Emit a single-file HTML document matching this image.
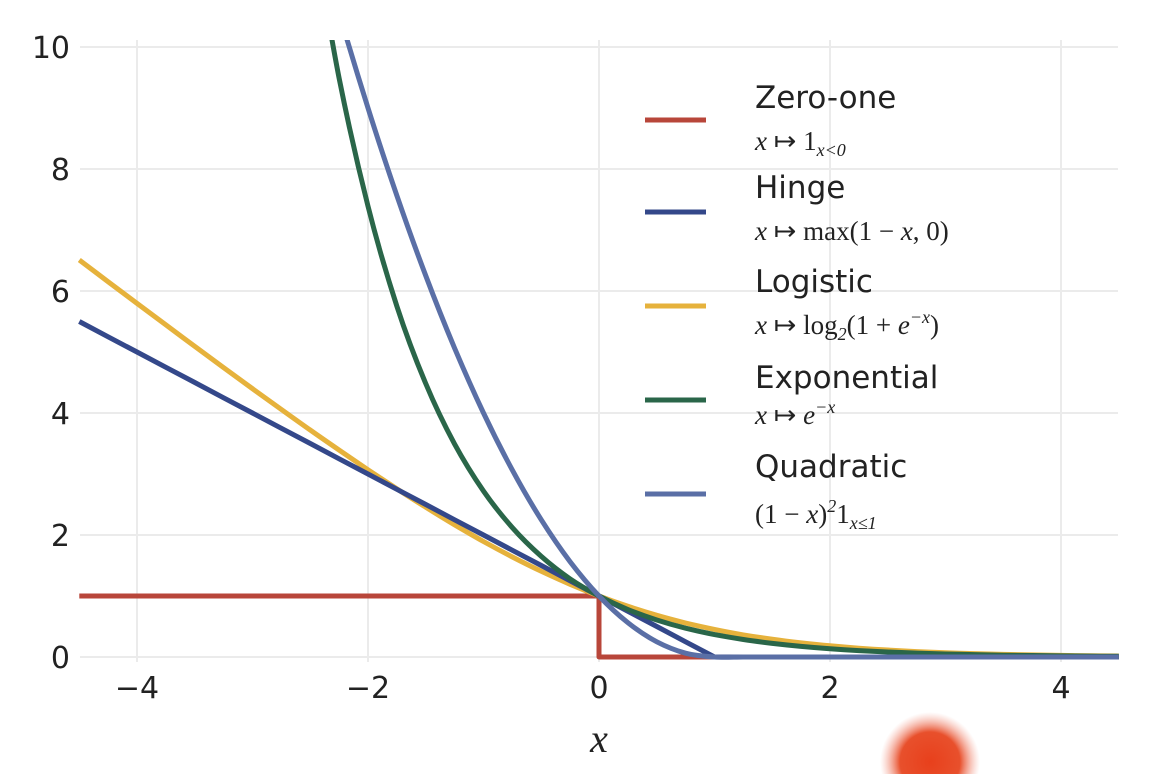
<!DOCTYPE html>
<html><head><meta charset="utf-8">
<style>
html,body{margin:0;padding:0;background:#fff;}
svg{display:block;}
.tick{font-family:"DejaVu Sans","Liberation Sans",sans-serif;font-size:30px;fill:#222;}
.lt{font-family:"DejaVu Sans","Liberation Sans",sans-serif;font-size:31px;fill:#222;}
.lf{font-family:"Liberation Serif",serif;font-size:27px;fill:#222;}
</style></head>
<body>
<svg id="chart" width="1176" height="774" viewBox="0 0 1176 774" xmlns="http://www.w3.org/2000/svg">
<defs>
<clipPath id="plotclip"><rect x="78" y="40" width="1042" height="625"/></clipPath>
<radialGradient id="dotg"><stop offset="0" stop-color="#e8401c"/><stop offset="0.6" stop-color="#e8502c"/><stop offset="1" stop-color="#f4a090" stop-opacity="0"/></radialGradient>
</defs>
<g id="grid"></g>
<g id="ticks"></g>
<g id="series" clip-path="url(#plotclip)"></g>
<text x="599" y="752" text-anchor="middle" style="font-family:'Liberation Serif',serif;font-style:italic;font-size:40px;fill:#222">x</text>
<g id="legend"></g>
<circle cx="930" cy="762" r="50" fill="url(#dotg)"/>
</svg>
<script>
const xs = [-4.5,-4.25,-4,-3.75,-3.5,-3.25,-3,-2.75,-2.5,-2.25,-2,-1.75,-1.5,-1.25,-1,-0.75,-0.5,-0.25,0,0.25,0.5,0.75,1,1.25,1.5,1.75,2,2.25,2.5,2.75,3,3.25,3.5,3.75,4,4.25,4.5];
const hinge = [5.5,5.25,5,4.75,4.5,4.25,4,3.75,3.5,3.25,3,2.75,2.5,2.25,2,1.75,1.5,1.25,1,0.75,0.5,0.25,0,0,0,0,0,0,0,0,0,0,0,0,0,0,0];
const logistic = [6.508,6.152,5.797,5.444,5.092,4.744,4.398,4.057,3.720,3.391,3.069,2.756,2.455,2.167,1.894,1.640,1.405,1.192,1,0.831,0.684,0.558,0.452,0.363,0.291,0.231,0.183,0.145,0.114,0.089,0.070,0.055,0.043,0.034,0.026,0.020,0.016];
const exponential = [null,null,null,null,null,null,null,null,12.18,9.49,7.39,5.75,4.48,3.49,2.72,2.12,1.65,1.28,1,0.779,0.607,0.472,0.368,0.287,0.223,0.174,0.135,0.105,0.082,0.064,0.050,0.039,0.030,0.024,0.018,0.014,0.011];
const quadratic = [null,null,null,null,null,null,null,null,12.25,10.56,9,7.5625,6.25,5.0625,4,3.0625,2.25,1.5625,1,0.5625,0.25,0.0625,0,0,0,0,0,0,0,0,0,0,0,0,0,0,0];
const zeroOneX = [-4.5,0,0,4.5];
const zeroOneY = [1,1,0,0];
const xTicks = [-4,-2,0,2,4];
const xTickLabels = ["−4","−2","0","2","4"];
const yTicks = [0,2,4,6,8,10];
const yTickLabels = ["0","2","4","6","8","10"];

const NS="http://www.w3.org/2000/svg";
const sx = v => 599 + v*115.5;
const sy = v => 657 - v*61;
function mk(tag, attrs, parent){const e=document.createElementNS(NS,tag);for(const k in attrs)e.setAttribute(k,attrs[k]);parent.appendChild(e);return e;}
const grid=document.getElementById('grid'), ticks=document.getElementById('ticks'), series=document.getElementById('series'), legend=document.getElementById('legend');
xTicks.forEach((t,i)=>{
  const l=mk('line',{x1:sx(t),x2:sx(t),y1:40,y2:662,stroke:'#ebebeb','stroke-width':2},grid);
  
  
  const tx=mk('text',{x:sx(t),y:698,'text-anchor':'middle',class:'tick'},ticks);
  tx.textContent=xTickLabels[i];
  
  
});
yTicks.forEach((t,i)=>{
  const l=mk('line',{x1:80,x2:1118,y1:sy(t),y2:sy(t),stroke:'#ebebeb','stroke-width':2},grid);
  
  
  const tx=mk('text',{x:70,y:sy(t)+11,'text-anchor':'end',class:'tick'},ticks);
  tx.textContent=yTickLabels[i];
  
  
});
function pathFrom(xa,ya,smooth){
  const segs=[];let cur=[];
  for(let i=0;i<xa.length;i++){if(ya[i]===null){if(cur.length)segs.push(cur);cur=[];continue;}cur.push([sx(xa[i]),sy(ya[i])]);}
  if(cur.length)segs.push(cur);
  let d='';
  segs.forEach(p=>{
    d+='M'+p[0][0].toFixed(1)+','+p[0][1].toFixed(1);
    for(let i=0;i<p.length-1;i++){
      if(!smooth){d+='L'+p[i+1][0].toFixed(1)+','+p[i+1][1].toFixed(1);continue;}
      const p0=p[i-1]||p[i],p1=p[i],p2=p[i+1],p3=p[i+2]||p2;
      const c1x=p1[0]+(p2[0]-p0[0])/6,c1y=p1[1]+(p2[1]-p0[1])/6;
      const c2x=p2[0]-(p3[0]-p1[0])/6,c2y=p2[1]-(p3[1]-p1[1])/6;
      d+='C'+c1x.toFixed(1)+','+c1y.toFixed(1)+' '+c2x.toFixed(1)+','+c2y.toFixed(1)+' '+p2[0].toFixed(1)+','+p2[1].toFixed(1);
    }
  });
  return d;
}
const defs=[
 {name:'zero-one-line',x:zeroOneX,y:zeroOneY,c:'#b8463a',s:false},
 {name:'logistic-line',x:xs,y:logistic,c:'#e6b23c',s:true},
 {name:'hinge-line',x:xs,y:hinge,c:'#34488a',s:false},
 {name:'exponential-line',x:xs,y:exponential,c:'#2a6649',s:true},
 {name:'quadratic-line',x:xs,y:quadratic,c:'#5a6fa6',s:true}
];
defs.forEach(s=>{
  const p=mk('path',{d:pathFrom(s.x,s.y,s.s),fill:'none',stroke:s.c,'stroke-width':5,'stroke-linejoin':'round'},series);
  
  
});
const leg=[
 {t:'Zero-one',f:[['x',1],[' ↦ 1',0],['x<0',2]],c:'#b8463a',ly:120,ty:108,fy:150},
 {t:'Hinge',f:[['x',1],[' ↦ max(1 − ',0],['x',1],[', 0)',0]],c:'#34488a',ly:212,ty:198,fy:240},
 {t:'Logistic',f:[['x',1],[' ↦ log',0],['2',2],['(1 + ',0],['e',1],['−x',3],[')',0]],c:'#e6b23c',ly:306,ty:292,fy:334},
 {t:'Exponential',f:[['x',1],[' ↦ ',0],['e',1],['−x',3]],c:'#2a6649',ly:400,ty:388,fy:424},
 {t:'Quadratic',f:[['(1 − ',0],['x',1],[')',0],['2',3],['1',0],['x≤1',2]],c:'#5a6fa6',ly:494,ty:477,fy:523}
];
leg.forEach(e=>{
  const g=mk('g',{},legend);
  
  
  mk('line',{x1:645,x2:706,y1:e.ly,y2:e.ly,stroke:e.c,'stroke-width':5},g);
  const t=mk('text',{x:755,y:e.ty,class:'lt'},g); t.textContent=e.t;
  const f=mk('text',{x:755,y:e.fy,class:'lf'},g);
  let off=0;
  e.f.forEach(([txt,k])=>{
    const ts=document.createElementNS(NS,'tspan');
    ts.textContent=txt;
    let target=0;
    if(k===1)ts.setAttribute('font-style','italic');
    if(k===2){ts.setAttribute('font-size','18');ts.setAttribute('font-style','italic');target=6;}
    if(k===3){ts.setAttribute('font-size','18');ts.setAttribute('font-style','italic');target=-11;}
    ts.setAttribute('dy',String(target-off));off=target;
    f.appendChild(ts);
  });
});
</script>
</body></html>
